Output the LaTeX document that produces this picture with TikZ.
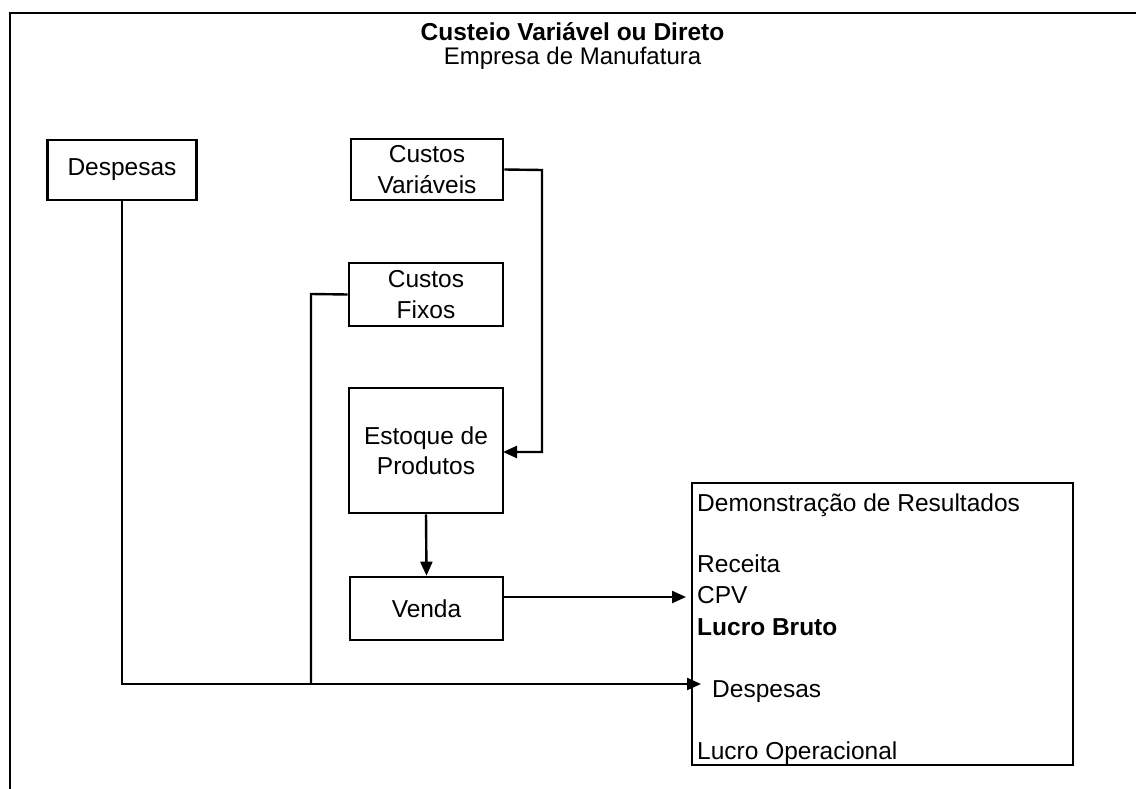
\documentclass[tikz,border=0pt]{standalone}
\usepackage{fontspec}
\setmainfont{Liberation Sans}
\usetikzlibrary{arrows.meta}
\begin{document}
\begin{tikzpicture}[x=1pt,y=-1pt,
  box/.style={draw,line width=2.6pt,inner sep=0pt,align=center,
    font=\fontsize{24.5}{30.5}\selectfont},
  link/.style={line width=2.4pt},
  arr/.style={link,-{Triangle[length=14pt,width=12pt]}},
  line/.style={anchor=base west,inner sep=0pt,font=\fontsize{24.5}{30}\selectfont},
  head/.style={inner sep=0pt,font=\fontsize{24.5}{29}\selectfont}]
\useasboundingbox (0,0) rectangle (1136,789);
% outer frame
\draw[line width=2.8pt] (10,789) -- (10,13) -- (1136,13);

% heading
\node[head] (title) at (572.5,32) {\bfseries Custeio Variável ou Direto};
\node[head,font=\fontsize{24}{29}\selectfont] (sub) at (572.5,58) {Empresa de Manufatura};

% boxes
\node[box,minimum width=149pt,minimum height=60pt] (desp) at (122,170) {Despesas};
\node[box,minimum width=152pt,minimum height=61pt] (cv) at (427,169.5) {Custos\\Variáveis};
\node[box,minimum width=154pt,minimum height=63pt] (cf) at (426,294.5) {Custos\\Fixos};
\node[box,minimum width=154pt,minimum height=125pt] (est) at (426,450.5) {Estoque de\\Produtos};
\node[box,minimum width=153pt,minimum height=63pt] (venda) at (426.5,608.5) {Venda};
\node[draw,line width=2.6pt,inner sep=0pt,minimum width=381pt,minimum height=282pt] (dr) at (882.5,624) {};

% income statement lines
\node[line] (dr1) at (697,511) {Demonstração de Resultados};
\node[line] (dr2) at (697,572) {Receita};
\node[line] (dr3) at (697,603) {CPV};
\node[line] (dr4) at (697,635) {\bfseries Lucro Bruto};
\node[line] (dr5) at (712,697) {Despesas};
\node[line] (dr6) at (697,759) {Lucro Operacional};

% routing points
\coordinate (j1) at (122,684);
\coordinate (j2) at (311,684);
\coordinate (k1) at (311,294);
\coordinate (drin) at (701,684);
\coordinate (c1) at (542,170);
\coordinate (c2) at (542,452);
\coordinate (c3) at (503,452);
\coordinate (v1) at (503,597);
\coordinate (v2) at (686,597);

% connectors
\draw[arr] (desp.south) -- (j1) -- (drin);
\draw[link] (cf.west) -- (k1) -- (j2);
\draw[arr] (cv.east) -- (c1) -- (c2) -- (c3);
\draw[arr] (est.south) -- (venda.north);
\draw[arr] (v1) -- (v2);
\end{tikzpicture}
\end{document}
